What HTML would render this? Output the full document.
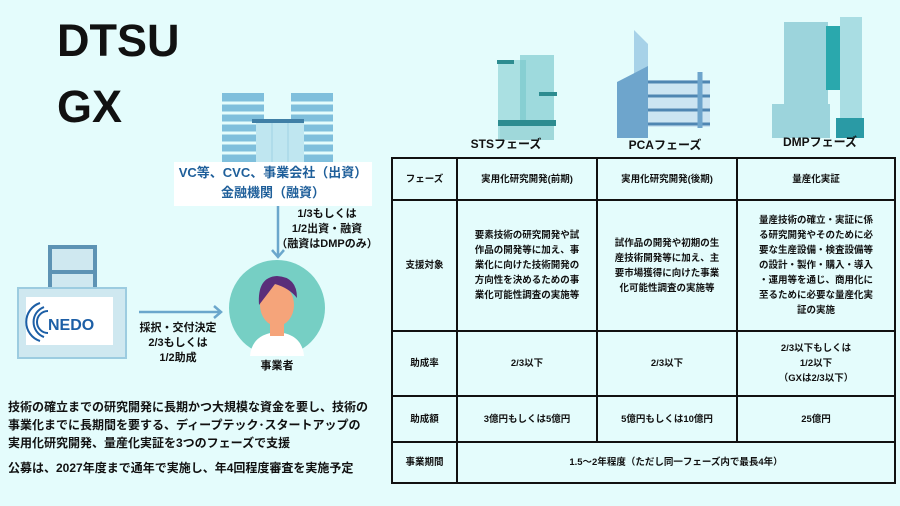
<!DOCTYPE html>
<html><head><meta charset="utf-8"><style>
body{margin:0;width:900px;height:506px;background:#e4fcfc;font-family:"Liberation Sans","Noto Sans CJK JP",sans-serif;position:relative;overflow:hidden;color:#111}
.a{position:absolute}
.t{position:absolute;font-weight:bold;font-size:10px;text-align:center;line-height:14px}
table{position:absolute;left:391px;top:157px;width:503px;table-layout:fixed;border-collapse:collapse;font-size:9.5px;font-weight:bold;text-align:center;line-height:15px}
td{border:2.5px solid #111;padding:0 3px}
</style></head><body>
<div class="a" style="left:57px;top:13px;font-size:45px;font-weight:bold;line-height:56px">DTSU</div>
<div class="a" style="left:57px;top:79px;font-size:45px;font-weight:bold;line-height:56px">GX</div>

<svg class="a" style="left:0;top:0" width="900" height="506">
 <g fill="#7fbfdc"><rect x="222" y="93" width="42" height="72"/><rect x="291" y="93" width="42" height="72"/></g>
 <g stroke="#e4fcfc" stroke-width="3"><path d="M222 103h42M222 113h42M222 123h42M222 133h42M222 143h42M222 153h42M291 103h42M291 113h42M291 123h42M291 133h42M291 143h42M291 153h42"/></g>
 <rect x="256" y="121" width="48" height="44" fill="#bfe6f0"/><rect x="252" y="119" width="52" height="4" fill="#3f7fa6"/>
 <path d="M272 123v42M288 123v42" stroke="#9fd2e4"/>
 <rect x="50" y="247" width="45" height="110" fill="#cfe8f0" stroke="#5d93b4" stroke-width="4"/>
 <rect x="18" y="288" width="108" height="70" fill="#cfe8f0" stroke="#9ccce0" stroke-width="2"/>
 <path d="M50 272h45" stroke="#5d93b4" stroke-width="4"/>
 <rect x="26" y="297" width="87" height="48" fill="#fff"/>
 <path d="M44 307a16 16 0 0 0 0 30M40 303a20 20 0 0 0 0 38M48 311a11 11 0 0 0 0 22" fill="none" stroke="#1d5fa6" stroke-width="2"/>
 <text x="48" y="330" font-size="16" font-weight="bold" fill="#1d5fa6" font-family="Liberation Sans">NEDO</text>
 <path d="M278 205v50" stroke="#6ba7cc" stroke-width="2.5"/><path d="M272 250l6 7 6-7" fill="none" stroke="#6ba7cc" stroke-width="2.5"/>
 <path d="M139 312h80" stroke="#6ba7cc" stroke-width="2.5"/><path d="M214 306l7 6-7 6" fill="none" stroke="#6ba7cc" stroke-width="2.5"/>
 <circle cx="277" cy="308" r="48" fill="#76cfc4"/>
 <path d="M250 356q2-22 27-24q25 2 27 24z" fill="#fff"/>
 <rect x="270" y="322" width="14" height="14" fill="#f5a47a"/>
 <ellipse cx="277" cy="305" rx="17" ry="21" fill="#f5a47a"/>
 <path d="M259 305q-2-28 18-29q20 1 20 22q-8-10-22-14q-6 8-16 21z" fill="#5a2e7a"/>
 <g fill="#6fc3c8"><rect x="498" y="60" width="28" height="80" opacity=".5"/><rect x="520" y="55" width="34" height="85" opacity=".6"/></g>
 <rect x="497" y="60" width="17" height="4" fill="#2d8c90"/><rect x="539" y="92" width="18" height="4" fill="#2d8c90"/>
 <rect x="498" y="120" width="58" height="6" fill="#2d8c90"/>
 <rect x="500" y="126" width="54" height="14" fill="#9fd8da"/>
 <path d="M634 30l14 14v30h-14z" fill="#a7d2e8"/>
 <path d="M617 82l31-16v72h-31z" fill="#6ea5cc"/>
 <rect x="648" y="80" width="62" height="47" fill="#cce5f2"/>
 <g stroke="#4f86b2" stroke-width="3"><path d="M648 82h62M648 96h62M648 110h62M648 124h62"/></g>
 <path d="M700 72v56" stroke="#6ea5cc" stroke-width="5"/>
 <rect x="784" y="22" width="44" height="116" fill="#9cd4dc"/>
 <rect x="826" y="26" width="22" height="64" fill="#2aa8ad"/>
 <rect x="840" y="17" width="22" height="104" fill="#a9dde3"/>
 <rect x="772" y="104" width="58" height="34" fill="#9cd4dc"/>
 <rect x="836" y="118" width="28" height="20" fill="#2a9aa5"/>
</svg>

<div class="a" style="left:174px;top:162px;width:198px;height:43px;background:#fff;color:#1f5f9a;font-size:13px;font-weight:bold;text-align:center;line-height:20px;padding-top:1px">VC等、CVC、事業会社（出資）<br>金融機関（融資）</div>
<div class="t" style="left:272px;top:207px;width:110px;font-size:11px;line-height:15px">1/3もしくは<br>1/2出資・融資<br>（融資はDMPのみ）</div>
<div class="t" style="left:128px;top:321px;width:100px;font-size:11px;line-height:15px">採択・交付決定<br>2/3もしくは<br>1/2助成</div>
<div class="t" style="left:247px;top:359px;width:60px;font-size:11px">事業者</div>
<div class="t" style="left:466px;top:137px;width:80px;font-size:12px">STSフェーズ</div>
<div class="t" style="left:625px;top:138px;width:80px;font-size:12px">PCAフェーズ</div>
<div class="t" style="left:775px;top:135px;width:90px;font-size:12px">DMPフェーズ</div>

<div class="a" style="left:8px;top:398px;font-size:12px;font-weight:bold;line-height:18px">技術の確立までの研究開発に長期かつ大規模な資金を要し、技術の<br>事業化までに長期間を要する、ディープテック･スタートアップの<br>実用化研究開発、量産化実証を3つのフェーズで支援</div>
<div class="a" style="left:8px;top:459px;font-size:12px;font-weight:bold;line-height:18px">公募は、2027年度まで通年で実施し、年4回程度審査を実施予定</div>

<table>
<colgroup><col style="width:65px"><col style="width:140px"><col style="width:140px"><col style="width:158px"></colgroup>
<tr style="height:42px"><td>フェーズ</td><td>実用化研究開発(前期)</td><td>実用化研究開発(後期)</td><td>量産化実証</td></tr>
<tr style="height:131px"><td>支援対象</td><td>要素技術の研究開発や試<br>作品の開発等に加え、事<br>業化に向けた技術開発の<br>方向性を決めるための事<br>業化可能性調査の実施等</td><td>試作品の開発や初期の生<br>産技術開発等に加え、主<br>要市場獲得に向けた事業<br>化可能性調査の実施等</td><td>量産技術の確立・実証に係<br>る研究開発やそのために必<br>要な生産設備・検査設備等<br>の設計・製作・購入・導入<br>・運用等を通じ、商用化に<br>至るために必要な量産化実<br>証の実施</td></tr>
<tr style="height:65px"><td>助成率</td><td>2/3以下</td><td>2/3以下</td><td>2/3以下もしくは<br>1/2以下<br>（GXは2/3以下）</td></tr>
<tr style="height:46px"><td>助成額</td><td>3億円もしくは5億円</td><td>5億円もしくは10億円</td><td>25億円</td></tr>
<tr style="height:41px"><td>事業期間</td><td colspan="3">1.5～2年程度（ただし同一フェーズ内で最長4年）</td></tr>
</table>
</body></html>
